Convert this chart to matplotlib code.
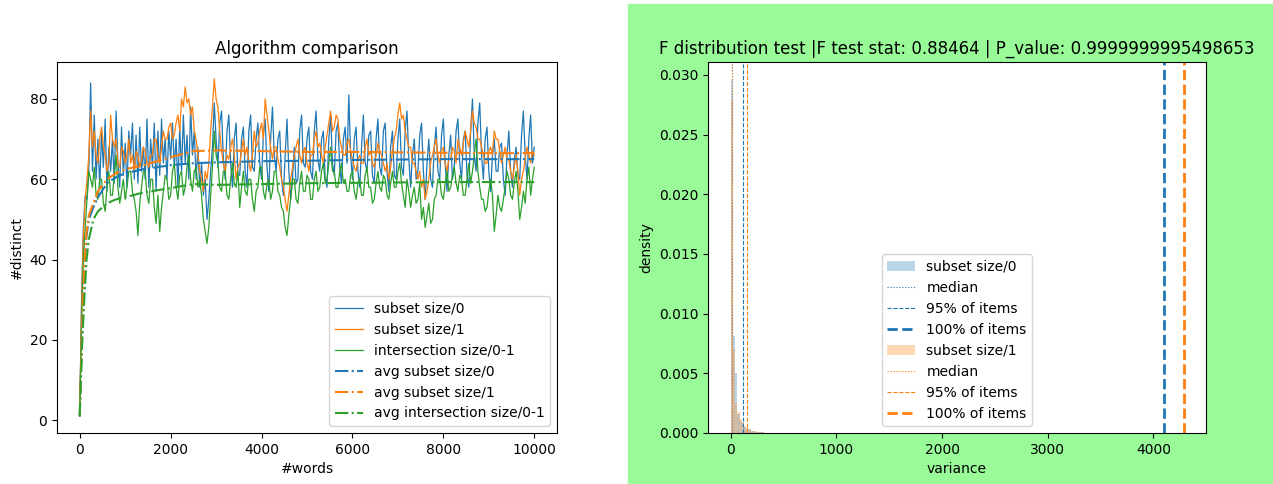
import numpy as np
import matplotlib
matplotlib.use("Agg")
import matplotlib.pyplot as plt
from matplotlib.patches import Rectangle

# ---- left panel: number of distinct items vs words read ----
words = [0, 40, 80, 120, 160, 200, 240, 280] + list(range(320, 10001, 40))

subset0 = [1, 30, 48, 56, 55, 62, 84, 62,
           76, 60, 70, 58, 72, 63, 75, 57, 68, 62, 70, 59, 77, 64, 58, 73, 61, 69, 58, 72,
           66, 74, 60, 71, 59, 73, 62, 68, 60, 75, 58, 70, 63, 74, 57, 72, 61, 75, 64, 70,
           60, 72, 65, 74, 63, 70, 58, 73, 62, 76, 64, 71, 60, 78, 66, 72, 60, 68, 58, 64,
           56, 60, 50, 55, 62, 68, 79, 70, 63, 74, 77, 65, 60, 72, 76, 64, 58, 70, 74, 61,
           61, 70, 73, 62, 58, 72, 76, 63, 62, 70, 74, 64, 60, 71, 75, 63, 57, 70, 78, 66,
           62, 70, 72, 60, 56, 66, 75, 62, 55, 60, 68, 59, 60, 72, 76, 64, 63, 70, 73, 62,
           60, 72, 77, 65, 62, 70, 72, 60, 58, 70, 76, 64, 61, 72, 74, 63, 59, 70, 73, 64,
           81, 66, 60, 70, 73, 62, 58, 68, 76, 64, 62, 71, 72, 61, 59, 70, 75, 63, 61, 72,
           74, 62, 57, 68, 72, 61, 60, 70, 75, 63, 61, 72, 77, 65, 58, 66, 70, 60, 62, 71,
           74, 62, 55, 64, 70, 60, 58, 68, 73, 62, 60, 71, 75, 64, 57, 66, 71, 60, 63, 72,
           75, 64, 60, 70, 72, 61, 58, 72, 80, 66, 62, 74, 79, 66, 60, 70, 73, 62, 57, 66,
           70, 62, 62, 68, 69, 60, 56, 66, 72, 62, 58, 65, 68, 61, 60, 71, 77, 66, 60, 70,
           76, 64, 68]

subset1 = [1, 28, 46, 55, 60, 66, 77, 68,
           72, 66, 64, 70, 73, 68, 66, 62, 64, 76, 70, 68, 70, 64, 63, 68, 67, 64, 66, 70,
           64, 66, 62, 67, 66, 63, 65, 68, 67, 64, 63, 66, 66, 70, 70, 66, 64, 68, 72, 70,
           70, 73, 74, 70, 71, 74, 76, 72, 80, 78, 83, 79, 80, 76, 78, 72, 70, 66, 62, 60,
           57, 62, 60, 64, 72, 78, 85, 80, 78, 72, 67, 64, 62, 66, 65, 68, 70, 66, 60, 63,
           64, 67, 70, 66, 68, 64, 62, 66, 72, 68, 69, 72, 74, 70, 80, 76, 72, 68, 65, 68,
           68, 65, 63, 60, 58, 55, 52, 56, 60, 63, 66, 68, 70, 66, 64, 67, 68, 64, 62, 66,
           66, 70, 72, 68, 69, 66, 64, 68, 71, 74, 77, 72, 73, 76, 75, 70, 68, 66, 66, 69,
           70, 67, 65, 63, 62, 65, 66, 64, 64, 68, 70, 66, 67, 64, 63, 66, 69, 67, 66, 64,
           62, 64, 60, 63, 67, 70, 72, 76, 79, 75, 76, 72, 70, 68, 68, 64, 64, 62, 60, 62,
           58, 60, 55, 57, 60, 64, 66, 68, 70, 66, 64, 67, 68, 64, 62, 65, 65, 68, 67, 64,
           70, 68, 66, 69, 72, 70, 68, 72, 77, 74, 73, 70, 70, 68, 66, 64, 64, 67, 68, 66,
           72, 70, 70, 67, 64, 66, 68, 65, 65, 62, 60, 63, 66, 62, 56, 60, 62, 65, 68, 66,
           64, 67, 66]

inter01 = [1, 25, 40, 48, 55, 62, 60, 58,
           63, 56, 55, 60, 60, 54, 52, 58, 62, 56, 56, 61, 66, 58, 54, 57, 60, 55, 58, 62,
           62, 57, 55, 52, 46, 54, 58, 62, 62, 56, 54, 60, 60, 53, 49, 56, 47, 53, 57, 61,
           60, 55, 56, 62, 64, 58, 55, 61, 62, 56, 58, 63, 66, 60, 57, 62, 63, 58, 60, 56,
           50, 47, 44, 48, 56, 63, 72, 66, 64, 58, 57, 62, 62, 56, 55, 60, 64, 59, 58, 62,
           53, 58, 62, 57, 56, 60, 60, 55, 52, 57, 58, 63, 63, 57, 55, 59, 60, 55, 57, 62,
           62, 57, 56, 53, 52, 48, 46, 51, 55, 60, 60, 55, 54, 59, 62, 57, 57, 61, 60, 55,
           55, 60, 62, 57, 58, 62, 64, 59, 60, 64, 68, 62, 62, 58, 58, 62, 64, 59, 60, 57,
           57, 61, 62, 57, 55, 59, 60, 56, 56, 61, 63, 58, 58, 54, 55, 59, 62, 58, 57, 61,
           60, 56, 55, 59, 62, 58, 58, 62, 64, 59, 56, 53, 60, 57, 53, 56, 58, 54, 55, 59,
           50, 53, 48, 51, 54, 49, 50, 55, 56, 60, 60, 56, 55, 59, 62, 57, 58, 61, 63, 59,
           57, 61, 60, 56, 56, 60, 64, 59, 62, 66, 70, 62, 58, 55, 55, 52, 53, 57, 60, 56,
           47, 51, 56, 53, 52, 55, 58, 62, 60, 56, 55, 59, 62, 57, 50, 53, 57, 54, 60, 63,
           56, 60, 63]

avg_words = [0, 50, 100, 150, 200, 300, 400, 600, 800, 1000, 1400, 2000,
             2500, 3000, 4000, 5000, 6000, 7000, 8000, 9000, 10000]
avg_subset0 = [1, 22, 38, 46, 50, 53, 55.5, 59, 60.5, 61.5, 62.5, 63.5,
               64, 64.2, 64.5, 64.6, 64.8, 64.9, 65, 65, 65]
avg_subset1 = [1, 22, 38, 47, 51, 54, 57, 60, 61.5, 62.5, 63.5, 65.5,
               67, 67.2, 67, 66.8, 66.8, 66.7, 66.6, 66.5, 66.5]
avg_inter01 = [1, 18, 30, 40, 45, 50, 52, 54, 55, 55.5, 56.7, 57.8,
               58.8, 58.6, 58.8, 59, 59.1, 59.2, 59.3, 59.3, 59.3]

# ---- right panel: variance histograms ----
bin_left = [0, 21, 42, 63, 84, 105, 126, 147, 168, 189, 210, 231, 252, 273, 294, 315]
bin_width = 21
dens0 = [0.0296, 0.0081, 0.0050, 0.0016, 0.0010, 0.0008, 0.0005, 0.0004,
         0.0003, 0.0002, 0.00015, 0.0001, 0.0001, 0.00008, 0.00005, 0.00003]
dens1 = [0.0279, 0.0070, 0.0025, 0.0018, 0.0012, 0.0009, 0.0006, 0.0004,
         0.0003, 0.0002, 0.0002, 0.00015, 0.0001, 0.0001, 0.00006, 0.00004]
median0, p95_0, max0 = 12, 116, 4095
median1, p95_1, max1 = 10, 155, 4290

c0 = "tab:blue"
c1 = "tab:orange"
c2 = "tab:green"

fig = plt.figure(figsize=(12.73, 4.84), dpi=100)
fig.patches.append(Rectangle((628 / 1273, 0), 1 - 628 / 1273, 480 / 484,
                             transform=fig.transFigure, color="palegreen",
                             zorder=-10))

ax = fig.add_axes([57 / 1273, 51 / 484, 500 / 1273, 371 / 484])
ax.plot(words, subset0, color=c0, lw=0.9, label="subset size/0")
ax.plot(words, subset1, color=c1, lw=0.9, label="subset size/1")
ax.plot(words, inter01, color=c2, lw=0.9, label="intersection size/0-1")
ax.plot(avg_words, avg_subset0, color=c0, ls="-.", lw=1.5, label="avg subset size/0")
ax.plot(avg_words, avg_subset1, color=c1, ls="-.", lw=1.5, label="avg subset size/1")
ax.plot(avg_words, avg_inter01, color=c2, ls="-.", lw=1.5, label="avg intersection size/0-1")
ax.set_title("Algorithm comparison")
ax.set_xlabel("#words")
ax.set_ylabel("#distinct")
ax.legend(loc="lower right")

ax2 = fig.add_axes([708 / 1273, 51 / 484, 498 / 1273, 371 / 484])
h = []
h.append(ax2.bar(bin_left, dens0, width=bin_width, align="edge", color=c0,
                 alpha=0.3, label="subset size/0"))
h.append(ax2.axvline(median0, color=c0, ls=":", lw=0.8, label="median"))
h.append(ax2.axvline(p95_0, color=c0, ls="--", lw=0.8, label="95% of items"))
h.append(ax2.axvline(max0, color=c0, ls="--", lw=2, label="100% of items"))
h.append(ax2.bar(bin_left, dens1, width=bin_width, align="edge", color=c1,
                 alpha=0.3, label="subset size/1"))
h.append(ax2.axvline(median1, color=c1, ls=":", lw=0.8, label="median"))
h.append(ax2.axvline(p95_1, color=c1, ls="--", lw=0.8, label="95% of items"))
h.append(ax2.axvline(max1, color=c1, ls="--", lw=2, label="100% of items"))
ax2.set_xlim(-214, 4497)
ax2.set_title("F distribution test |F test stat: 0.88464 | P_value: 0.9999999995498653")
ax2.set_xlabel("variance")
ax2.set_ylabel("density")
ax2.legend(handles=h, loc="lower center")

fig.savefig("out.png", dpi=100)
